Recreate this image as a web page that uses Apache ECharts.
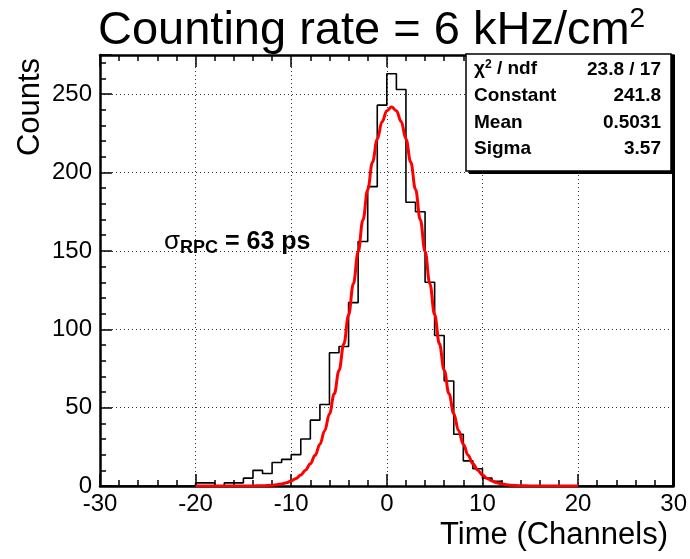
<!DOCTYPE html>
<html>
<head>
<meta charset="utf-8">
<script src="https://cdn.jsdelivr.net/npm/echarts@6/dist/echarts.min.js"></script>
<style>
html,body{margin:0;padding:0;background:#fff;}
#c{width:690px;height:559px;}
</style>
</head>
<body>
<div id="c"></div>
<script>
// Histogram bins (lower edge, width 1 channel) and counts
const binLow = [-20,-19,-18,-17,-16,-15,-14,-13,-12,-11,-10,-9,-8,-7,-6,-5,-4,-3,-2,-1,0,1,2,3,4,5,6,7,8,9,10,11];
const counts = [2,2,0,2,2,5,10,8,15,17,20,30,42,52,85,89,117,156,191,243,263,253,181,175,130,96,67,33,16,11,5,3];
const binWidth = 1;

// Gaussian fit curve
const fitX = [-20,-19,-18,-17,-16,-15,-14,-13,-12,-11.5,-11,-10.5,-10,-9.5,-9,-8.5,-8,-7.5,-7,-6.5,-6,-5.5,-5,-4.5,-4,-3.5,-3,-2.5,-2,-1.5,-1,-0.5,0,0.5,1,1.5,2,2.5,3,3.5,4,4.5,5,5.5,6,6.5,7,7.5,8,8.5,9,9.5,10,10.5,11,11.5,12,12.5,13,14,15,16,17,18,19,20];
const fitY = [0,0,0,0,0,0,0,0.2,0.5,0.85,1.35,2.1,3.2,4.8,7.0,10.1,14.2,19.6,26.6,35.3,46.0,58.8,73.7,90.6,109.1,129.0,149.4,169.7,189.1,206.6,221.3,232.4,239.4,241.8,239.5,232.5,221.4,206.7,189.3,169.9,149.6,129.1,109.4,90.7,73.9,58.9,46.2,35.4,26.7,19.6,14.2,10.1,7.0,4.8,3.2,2.1,1.35,0.85,0.5,0.2,0,0,0,0,0,0];

// Axis settings
const xMin = -30, xMax = 30, xStep = 10;
const yMin = 0, yMax = 275, yStep = 50;

// Texts
const titleText = 'Counting rate = 6 kHz/cm';
const titleSup = '2';
const yTitle = 'Counts';
const xTitle = 'Time (Channels)';
const statLabels = ['chi2', 'Constant', 'Mean', 'Sigma'];
const statValues = ['23.8 / 17', '241.8', '0.5031', '3.57'];

// Build step outline
const histData = [[xMin, 0]];
binLow.forEach((x, i) => histData.push([x, counts[i]]));
histData.push([binLow[binLow.length - 1] + binWidth, 0]);
histData.push([xMax, 0]);
const fitData = fitX.map((x, i) => [x, fitY[i]]);

const chart = echarts.init(document.getElementById('c'));
const FONT = 'Liberation Sans, Arial, Helvetica, sans-serif';
const tick = () => ({show: true, inside: true, length: 12, lineStyle: {color: '#000', width: 1.5}});
const minor = () => ({show: true, splitNumber: 5, length: 6, lineStyle: {color: '#000', width: 1.5}});
const line = (w) => ({show: true, onZero: false, lineStyle: {color: '#000', width: w}});

const statRows = [];
statLabels.forEach((l, i) => {
  const y = 72 + i * 26.5;
  if (l === 'chi2') {
    statRows.push({type: 'text', left: 474, top: y - 13, z: 11, style: {text: '{c|χ}{s|2}{c| / ndf}', rich: {c: {fontFamily: FONT, fontWeight: 'bold', fontSize: 19, fill: '#000'}, s: {fontFamily: FONT, fontWeight: 'bold', fontSize: 12, fill: '#000', verticalAlign: 'top', padding: [0,0,8,0]}}}});
  } else {
    statRows.push({type: 'text', left: 474, top: y - 12, z: 11, style: {text: l, font: 'bold 19px ' + FONT, fill: '#000'}});
  }
  statRows.push({type: 'text', right: 29, top: y - 12, z: 11, style: {text: statValues[i], font: 'bold 19px ' + FONT, fill: '#000', textAlign: 'right'}});
});

chart.setOption({
  animation: false,
  title: {
    text: '{a|' + titleText + '}{s|' + titleSup + '}',
    left: 93, top: 0,
    textStyle: {
      fontWeight: 'normal',
      rich: {
        a: {fontFamily: FONT, fontSize: 47, fontWeight: 'normal', color: '#000', lineHeight: 52},
        s: {fontFamily: FONT, fontSize: 28, fontWeight: 'normal', color: '#000', verticalAlign: 'top', lineHeight: 52, padding: [0,0,18,0]}
      }
    }
  },
  grid: {left: 100, right: 16, top: 55, bottom: 73},
  xAxis: [{
    type: 'value', min: xMin, max: xMax, interval: xStep, position: 'bottom',
    axisLine: line(2.5), axisTick: tick(), minorTick: minor(),
    splitLine: {show: true, lineStyle: {color: '#333', width: 1, type: [1, 3]}},
    axisLabel: {color: '#000', fontSize: 24, fontFamily: FONT, margin: 6}
  }, {
    type: 'value', min: xMin, max: xMax, interval: xStep, position: 'top',
    axisLine: line(2.5), axisTick: tick(), minorTick: minor(),
    splitLine: {show: false}, axisLabel: {show: false}
  }],
  yAxis: {
    type: 'value', min: yMin, max: yMax, interval: yStep, position: 'left',
    axisLine: line(2.5), axisTick: tick(), minorTick: minor(),
    splitLine: {show: true, lineStyle: {color: '#333', width: 1, type: [1, 3]}},
    axisLabel: {color: '#000', fontSize: 24, fontFamily: FONT, margin: 8,
      formatter: v => (v === yMax ? '' : String(v))}
  },
  series: [{
    type: 'line', name: 'hist', data: histData, step: 'end',
    showSymbol: false, symbol: 'none',
    lineStyle: {color: '#000', width: 1.6}, z: 3
  }, {
    type: 'line', name: 'fit', data: fitData, smooth: 0.4, smoothMonotone: 'x',
    showSymbol: false, symbol: 'none',
    lineStyle: {color: '#ff0000', width: 3}, z: 4
  }],
  graphic: [
    {type: 'text', x: 30, y: 107, rotation: Math.PI / 2, style: {text: yTitle, font: '31px ' + FONT, fill: '#000', textAlign: 'center', textVerticalAlign: 'middle'}},
    {type: 'text', right: 22, top: 520, style: {text: xTitle, font: '31px ' + FONT, fill: '#000', textAlign: 'right'}},
    {type: 'rect', shape: {x: 469, y: 57, width: 205, height: 117}, style: {fill: '#000'}, z: 9},
    {type: 'rect', shape: {x: 466, y: 54, width: 205, height: 117}, style: {fill: '#fff', stroke: '#000', lineWidth: 1.5}, z: 10},
    {type: 'rect', shape: {x: 672, y: 55, width: 3, height: 431}, style: {fill: '#000'}, z: 8}
  ].concat(statRows).concat([
    {type: 'text', left: 164, top: 229, z: 11, style: {
      text: '{g|σ}{r|RPC}{b| = 63 ps}',
      rich: {
        g: {fontFamily: FONT, fontSize: 26, fill: '#000'},
        r: {fontFamily: FONT, fontSize: 18, fontWeight: 'bold', fill: '#000', verticalAlign: 'bottom', padding: [12,0,0,0]},
        b: {fontFamily: FONT, fontSize: 25, fontWeight: 'bold', fill: '#000'}
      }
    }}
  ])
});
</script>
</body>
</html>
